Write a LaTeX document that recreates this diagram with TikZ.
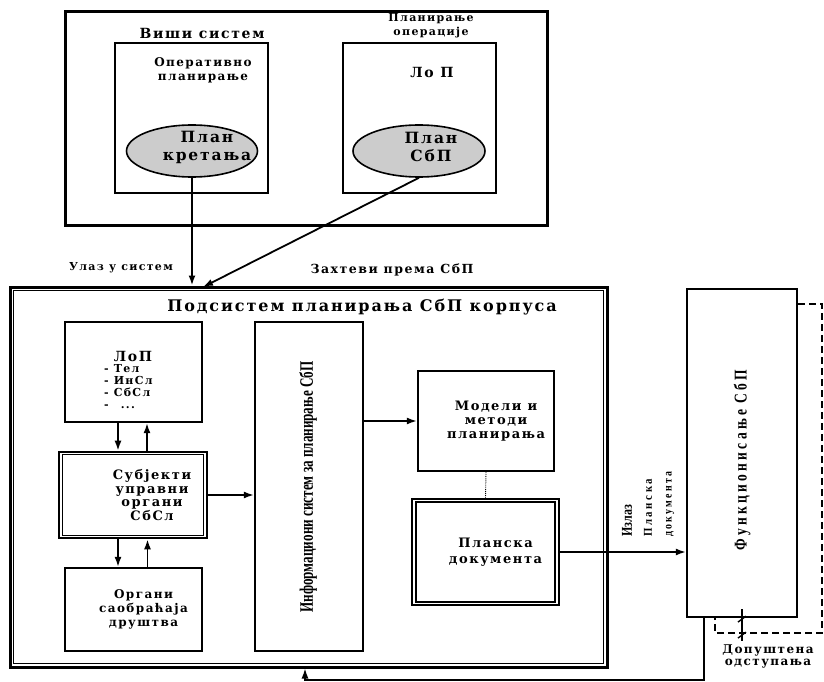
\documentclass[tikz,border=0pt]{standalone}
\usepackage{fontspec}
\setmainfont{Liberation Serif}
\newfontfamily\widefont{DejaVu Serif}[LetterSpace=12]
\newfontfamily\spacedfont{Liberation Serif}[LetterSpace=24]
\usetikzlibrary{arrows.meta, positioning, shapes.geometric}

\begin{document}
\begin{tikzpicture}[
    x=1pt, y=-1pt,
    fs/.style 2 args={font=\widefont\bfseries\fontsize{#1}{#2}\selectfont},
    box/.style={draw, line width=2.2pt, inner sep=0pt},
    bigbox/.style={draw, line width=3pt, inner sep=0pt},
    oval/.style={draw, ellipse, line width=1.6pt, fill=black!20, inner sep=0pt},
    txt/.style={align=center, inner sep=0pt},
    arrow/.style={-{Latex[length=10pt,width=7pt]}, line width=1.8pt}
    ]

    \useasboundingbox[fill=white] (0,0) rectangle (824,682);

    % Higher system
    \node[bigbox, minimum width=482pt, minimum height=213pt] (vsys) at (306,118.5) {};
    \node[box, minimum width=153pt, minimum height=150pt] (opl) at (191.5,118) {};
    \node[box, minimum width=153pt, minimum height=150pt] (lopo) at (419.5,118) {};
    \node[oval, minimum width=131pt, minimum height=52pt] (kret) at (192,151) {};
    \node[oval, minimum width=132pt, minimum height=52pt] (plsbp) at (419,151) {};

    \node[txt, fs={14}{16}] (vsysl) at (202,33) {Виши систем};
    \node[txt, fs={11}{14}] (opsl) at (431,26) {Планирање\\операције};
    \node[txt, fs={12}{14}] (opll) at (203,70) {Оперативно\\планирање};
    \node[txt, fs={14}{16}] (lopol) at (432,72) {Ло П};
    \node[txt, fs={15.5}{18}] (kretl) at ([xshift=15pt,yshift=4pt]kret.center) {План\\кретања};
    \node[txt, fs={15.5}{18}] (plsbpl) at ([xshift=12pt,yshift=4pt]plsbp.center) {План\\СбП};

    \node[txt, fs={11}{12}] (ulaz) at (121,268) {Улаз у систем};
    \node[txt, fs={12.5}{12}] (zaht) at (392,270) {Захтеви према СбП};

    % Planning subsystem
    \node[bigbox, minimum width=597pt, minimum height=380pt] (sub) at (308.5,477) {};
    \draw[line width=1pt] ([xshift=5pt,yshift=-5pt]sub.north west) rectangle ([xshift=-5pt,yshift=5pt]sub.south east);
    \node[txt, fs={16}{18}] (subl) at (362,307) {Подсистем планирања СбП корпуса};

    \node[box, minimum width=137pt, minimum height=100pt] (lop) at (133.5,372) {};
    \node[txt, fs={14}{16}] (lopl) at (133,356) {ЛоП};
    \node[align=left, inner sep=0pt, fs={11}{12}, anchor=west] (lopi) at (104,387)
        {-\hspace{5pt}Тел\\-\hspace{5pt}ИнСл\\-\hspace{5pt}СбСл\\-\hspace{12pt}...};

    \node[draw, line width=2.6pt, inner sep=0pt, minimum width=148pt, minimum height=86pt] (subj) at (133,495) {};
    \draw[line width=1.1pt] ([xshift=5pt,yshift=-4pt]subj.north west) rectangle ([xshift=-5pt,yshift=4pt]subj.south east);
    \node[txt, fs={13}{13.7}] (subjl) at ([xshift=19pt]subj.center) {Субјекти\\управни\\органи\\СбСл};

    \node[box, minimum width=137pt, minimum height=83pt] (org) at (133.5,609.5) {};
    \node[txt, fs={12}{14}] (orgl) at ([xshift=10pt]org.center) {Органи\\саобраћаја\\друштва};

    \node[box, minimum width=108pt, minimum height=329pt] (info) at (309,486.5) {};
    \node[txt, rotate=90, font=\bfseries\fontsize{19}{19}\selectfont] (infol) at (308,487)
        {\scalebox{0.69}[1]{Информациони систем за планирање СбП}};

    \node[box, minimum width=136pt, minimum height=100pt] (mod) at (486,421) {};
    \node[txt, fs={13}{14}] (modl) at ([xshift=10pt]mod.center) {Модели и\\методи\\планирања};

    \node[draw, line width=2.2pt, inner sep=0pt, minimum width=147pt, minimum height=106pt] (plan) at (485.5,552) {};
    \draw[line width=1.5pt] ([xshift=5pt,yshift=-4pt]plan.north west) rectangle ([xshift=-5pt,yshift=4pt]plan.south east);
    \node[txt, fs={13}{16}] (planl) at ([xshift=10pt]plan.center) {Планска\\документа};

    % Functioning
    \node[box, minimum width=110pt, minimum height=328pt] (func) at (742,453) {};
    \node[txt, rotate=90, font=\spacedfont\bfseries\fontsize{18}{15}\selectfont] (funcl) at (742,460) {\scalebox{0.75}[1]{Функционисање СбП}};

    \node[rotate=90, anchor=west, inner sep=0pt, font=\bfseries\fontsize{15}{15}\selectfont] (izl) at (627,537) {\scalebox{0.8}[1]{Излаз}};
    \node[rotate=90, anchor=west, inner sep=0pt, font=\spacedfont\bfseries\fontsize{12}{12}\selectfont] (izp) at (648,537) {\scalebox{0.9}[1]{Планска}};
    \node[rotate=90, anchor=west, inner sep=0pt, font=\spacedfont\bfseries\fontsize{12}{12}\selectfont] (izd) at (670,537) {\scalebox{0.82}[1]{документа}};

    \node[txt, fs={12}{12}] (dop) at (768,656) {Допуштена\\одступања};

    \coordinate (in2) at (203,287);
    \coordinate (fb) at (305,680);

    % Arrows
    \draw[arrow] (kret.south) -- (kret.south |- sub.north);
    \draw[arrow] (plsbp.south) -- (in2);
    \draw[arrow] ([xshift=-15.5pt]lop.south) -- ([xshift=-15.5pt]lop.south |- subj.north);
    \draw[arrow] ([xshift=14pt]subj.north) -- ([xshift=14pt]subj.north |- lop.south);
    \draw[arrow] ([xshift=-15pt]subj.south) -- ([xshift=-15pt]subj.south |- org.north);
    \draw[arrow] ([xshift=14pt]org.north) -- ([xshift=14pt]org.north |- subj.south);
    \draw[arrow] (subj.east) -- (subj.east -| info.west);
    \draw[arrow] (info.east |- mod.west) -- (mod.west);
    \draw[densely dotted, line width=0.9pt] (mod.south) -- (plan.north);
    \draw[arrow] (plan.east) -- (plan.east -| func.west);

    % Feedback
    \draw[line width=1.5pt, dash pattern=on 7pt off 4pt] ([yshift=-16pt]func.north east) -| (822,633) -| ([xshift=-27pt]func.south);
    \draw[line width=1.4pt] ([yshift=9pt]func.south) -- ([yshift=-23pt]func.south);
    \draw[line width=1.4pt] ([xshift=-4pt,yshift=-4pt]func.south) -- ([xshift=4pt,yshift=2pt]func.south);
    \draw[line width=1.4pt] ([xshift=-4pt,yshift=-20pt]func.south) -- ([xshift=4pt,yshift=-14pt]func.south);
    \draw[arrow, line width=1.4pt] ([xshift=-38pt]func.south) |- (fb) -- (fb |- sub.south);

\end{tikzpicture}
\end{document}
